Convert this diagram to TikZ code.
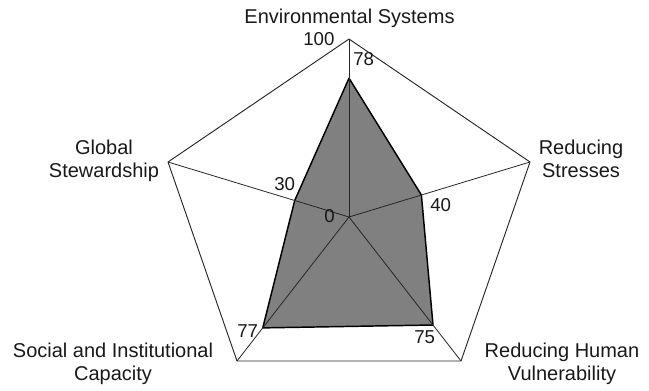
\documentclass[tikz,border=0pt]{standalone}
\usepackage{fontspec}
\setmainfont{Liberation Sans}
\usetikzlibrary{calc}
\begin{document}
\begin{tikzpicture}[x=0.75pt,y=-0.75pt,
  axis/.style={line width=0.6pt, draw=black!85},
  rim/.style={line width=0.7pt, draw=black!85, line join=round},
  rimlow/.style={line width=1.5pt, draw=black!30},
  datapoly/.style={fill=gray, draw=black, line width=1.1pt, line join=round},
  lbl/.style={font=\fontsize{15}{17.25}\selectfont, align=center, inner sep=0pt, anchor=base, text=black!90},
  num/.style={font=\fontsize{14}{16}\selectfont, inner sep=0pt, anchor=base west, text=black!90}]
\useasboundingbox (0,0) rectangle (649,390);
\coordinate (C) at (349,217);
\coordinate (V1) at (349,39);
\coordinate (V2) at (530,162);
\coordinate (V3) at (461,361);
\coordinate (V4) at (237,361);
\coordinate (V5) at (168,162);
\draw[rim] (V3) -- (V2) -- (V1) -- (V5) -- (V4);
\draw[rimlow] (V4) -- (V3);
\coordinate (P1) at ($(C)!0.78!(V1)$);
\coordinate (P2) at ($(C)!0.40!(V2)$);
\coordinate (P3) at ($(C)!0.75!(V3)$);
\coordinate (P4) at ($(C)!0.77!(V4)$);
\coordinate (P5) at ($(C)!0.30!(V5)$);
\draw[datapoly] (P1) -- (P2) -- (P3) -- (P4) -- (P5) -- cycle;
\foreach \v in {V1,V2,V3,V4,V5} \draw[axis] (C) -- (\v);
\node[lbl] (tES) at (349.5,23) {Environmental Systems};
\node[lbl] (tRS) at (581,177) {Reducing\\Stresses};
\node[lbl] (tGS) at (104,177) {Global\\Stewardship};
\node[lbl] (tRH) at (562,380) {Reducing Human\\Vulnerability};
\node[lbl] (tSI) at (113,380) {Social and Institutional\\Capacity};
\node[num] (n100) at (303,45) {100};
\node[num] (n78) at (353,65) {78};
\node[num] (n40) at (430,211) {40};
\node[num] (n30) at (274,190) {30};
\node[num] (n0) at (324,222) {0};
\node[num] (n77) at (237,337) {77};
\node[num] (n75) at (414,343) {75};
\end{tikzpicture}
\end{document}
